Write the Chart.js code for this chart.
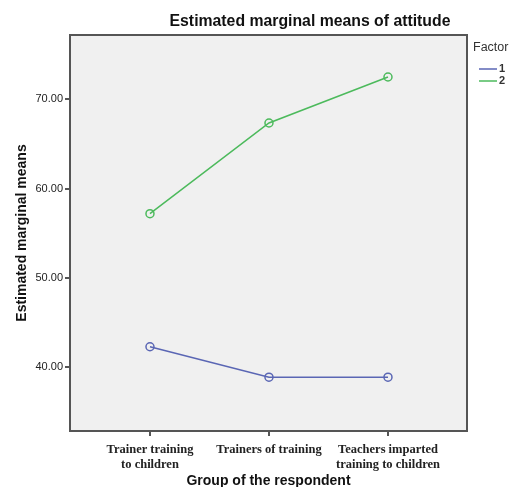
<!DOCTYPE html>
<html>
<head>
<meta charset="utf-8">
<script src="https://cdn.jsdelivr.net/npm/chart.js@4"></script>
<style>
  html, body { margin: 0; padding: 0; background: #fff; }
  #wrap { width: 514px; height: 487px; }
</style>
</head>
<body>
<div id="wrap"><canvas id="chart" width="514" height="487"></canvas></div>
<script>
const groups = [
  ['Trainer training', 'to children'],
  'Trainers of training',
  ['Teachers imparted', 'training to children']
];
const factor1 = [42.3, 38.9, 38.9];
const factor2 = [57.2, 67.35, 72.5];
const yTicks = [40, 50, 60, 70];
const factorNames = ['1', '2'];
const colors = ['#5a66b4', '#4cba5c'];

const sans = '"Liberation Sans", Arial, sans-serif';

const frame = {
  id: 'frame',
  beforeDraw(c) {
    const a = c.chartArea, ctx = c.ctx;
    ctx.save();
    ctx.fillStyle = '#f0f0f0';
    ctx.fillRect(a.left, a.top, a.right - a.left, a.bottom - a.top);
    ctx.restore();
  },
  afterDraw(c) {
    const a = c.chartArea, ctx = c.ctx;
    ctx.save();
    ctx.strokeStyle = '#555';
    ctx.lineWidth = 2;
    ctx.strokeRect(a.left, a.top, a.right - a.left, a.bottom - a.top);

    // title
    ctx.fillStyle = '#111';
    ctx.font = 'bold 15.8px ' + sans;
    ctx.textAlign = 'center';
    ctx.textBaseline = 'middle';
    ctx.fillText('Estimated marginal means of attitude', 310, 22);

    // legend
    ctx.font = '12.5px ' + sans;
    ctx.fillStyle = '#333';
    ctx.textAlign = 'left';
    ctx.fillText('Factor', 473, 48);
    factorNames.forEach((n, i) => {
      const y = 69 + i * 12;
      ctx.strokeStyle = colors[i];
      ctx.lineWidth = 1.5;
      ctx.beginPath();
      ctx.moveTo(479, y);
      ctx.lineTo(497, y);
      ctx.stroke();
      ctx.fillStyle = '#333';
      ctx.font = 'bold 11px ' + sans;
      ctx.fillText(n, 499, y);
    });
    ctx.restore();
  }
};

const ctx = document.getElementById('chart').getContext('2d');
new Chart(ctx, {
  type: 'line',
  data: {
    datasets: [factor1, factor2].map((vals, i) => ({
      label: factorNames[i],
      data: vals.map((v, j) => ({ x: j, y: v })),
      borderColor: colors[i],
      borderWidth: 1.5,
      pointRadius: 4,
      pointBorderWidth: 1.5,
      pointBackgroundColor: 'rgba(0,0,0,0)',
      pointBorderColor: colors[i],
      tension: 0,
      fill: false
    }))
  },
  options: {
    responsive: false,
    animation: false,
    layout: { padding: { top: 35, right: 47, left: 0, bottom: 0 } },
    plugins: { legend: { display: false }, title: { display: false }, tooltip: { enabled: false } },
    scales: {
      x: {
        type: 'linear',
        min: -0.672,
        max: 2.664,
        afterBuildTicks: s => { s.ticks = [0, 1, 2].map(v => ({ value: v })); },
        afterFit: s => { s.height = 56; },
        grid: { drawOnChartArea: false, drawTicks: true, tickLength: 5, color: '#555', lineWidth: 2 },
        border: { display: true, color: '#555', width: 2 },
        ticks: {
          autoSkip: false,
          maxRotation: 0,
          padding: 7,
          color: '#222',
          font: { family: '"Liberation Serif", "DejaVu Serif", serif', size: 12.5, weight: 'bold', lineHeight: 1.15 },
          callback: v => groups[v]
        },
        title: {
          display: true,
          text: 'Group of the respondent',
          color: '#111',
          font: { family: sans, size: 14, weight: 'bold' },
          padding: { top: 0, bottom: -3 }
        }
      },
      y: {
        min: 32.87,
        max: 77.2,
        afterBuildTicks: s => { s.ticks = yTicks.map(v => ({ value: v })); },
        afterFit: s => { s.width = 70; },
        grid: { drawOnChartArea: false, drawTicks: true, tickLength: 5, color: '#555', lineWidth: 2 },
        border: { display: true, color: '#555', width: 2 },
        ticks: {
          padding: 2,
          color: '#222',
          font: { family: sans, size: 11 },
          callback: v => v.toFixed(2)
        },
        title: {
          display: true,
          text: 'Estimated marginal means',
          color: '#111',
          font: { family: sans, size: 14, weight: 'bold' },
          padding: { top: 14, bottom: 0 }
        }
      }
    }
  },
  plugins: [frame]
});
</script>
</body>
</html>
